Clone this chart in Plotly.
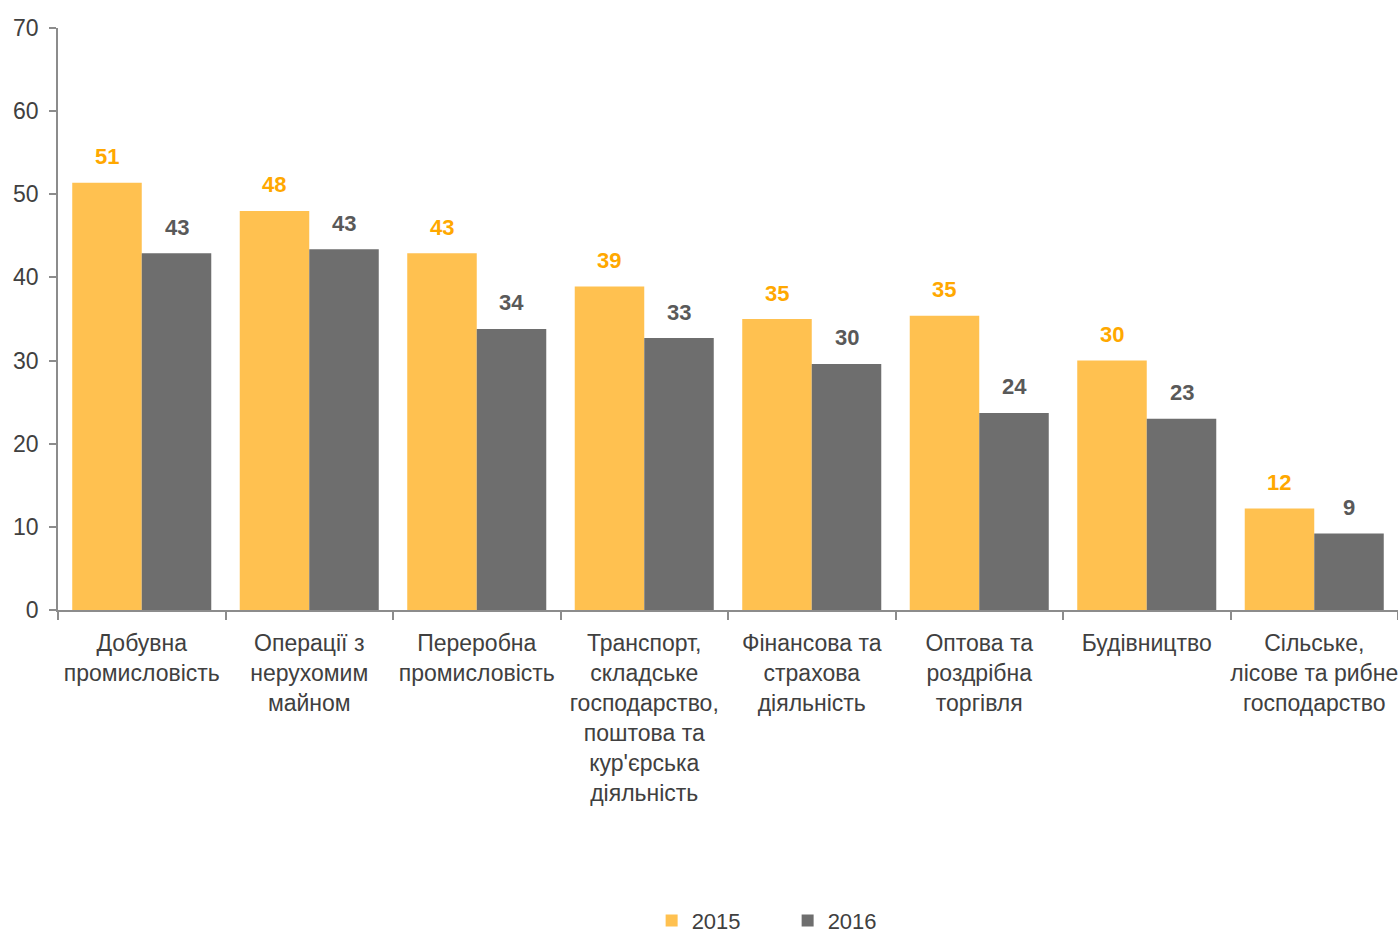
import plotly.graph_objects as go

categories = [
    "Добувна<br>промисловість",
    "Операції з<br>нерухомим<br>майном",
    "Переробна<br>промисловість",
    "Транспорт,<br>складське<br>господарство,<br>поштова та<br>кур'єрська<br>діяльність",
    "Фінансова та<br>страхова<br>діяльність",
    "Оптова та<br>роздрібна<br>торгівля",
    "Будівництво",
    "Сільське,<br>лісове та рибне<br>господарство",
]
values_2015 = [51.4, 48.0, 42.9, 38.9, 35.0, 35.4, 30.0, 12.2]
values_2016 = [42.9, 43.4, 33.8, 32.7, 29.6, 23.7, 23.0, 9.2]
labels_2015 = ["51", "48", "43", "39", "35", "35", "30", "12"]
labels_2016 = ["43", "43", "34", "33", "30", "24", "23", "9"]
series_names = ["2015", "2016"]

FONT = "Liberation Sans, Arial, sans-serif"
C15 = "#FFC150"
C16 = "#6E6E6E"
L15 = "#FFA800"
L16 = "#595959"

fig = go.Figure()
fig.add_trace(go.Bar(x=categories, y=values_2015, name=series_names[0],
                     marker=dict(color=C15, line=dict(width=0))))
fig.add_trace(go.Bar(x=categories, y=values_2016, name=series_names[1],
                     marker=dict(color=C16, line=dict(width=0))))

W, H = 1398, 934
ml, mr, mt, mb = 58, 0, 28, 324
bargap = 0.17
cat_px = (W - ml - mr) / len(categories)
half = cat_px * (1 - bargap) / 4

annotations = []
for cat, v, t in zip(categories, values_2015, labels_2015):
    annotations.append(dict(x=cat, y=v, text=t, showarrow=False, xshift=-half,
                            yshift=26, yanchor="middle",
                            font=dict(family=FONT, size=22, color=L15, weight="bold")))
for cat, v, t in zip(categories, values_2016, labels_2016):
    annotations.append(dict(x=cat, y=v, text=t, showarrow=False, xshift=half,
                            yshift=26, yanchor="middle",
                            font=dict(family=FONT, size=22, color=L16, weight="bold")))

fig.update_layout(
    width=W, height=H,
    margin=dict(l=ml, r=mr, t=mt, b=mb, autoexpand=False),
    plot_bgcolor="white", paper_bgcolor="white",
    barmode="group", bargap=bargap, bargroupgap=0,
    font=dict(family=FONT, size=22, color="#404040"),
    annotations=annotations,
    showlegend=True,
    legend=dict(orientation="h", x=0.5445, xanchor="center", y=-0.534, yanchor="middle",
                font=dict(family=FONT, size=22, color="#404040"),
                itemwidth=30, entrywidth=91, entrywidthmode="pixels",
                traceorder="normal"),
    xaxis=dict(showline=True, linecolor="#8C8C8C", linewidth=1.5,
               ticks="outside", tickson="boundaries", ticklen=8, tickcolor="#8C8C8C",
               tickwidth=1.5, tickfont=dict(size=23, color="#404040"), tickangle=0,
               ticklabelstandoff=12, automargin=False,
               showgrid=False, zeroline=False, fixedrange=True),
    yaxis=dict(range=[0, 70], dtick=10, showline=True, linecolor="#8C8C8C", linewidth=1.5,
               ticks="outside", ticklen=7, tickcolor="#8C8C8C", tickwidth=1.5,
               tickfont=dict(size=23, color="#404040"), automargin=False,
               ticklabelstandoff=6,
               showgrid=False, zeroline=False, fixedrange=True),
)

fig.write_html(
    "out.html",
    config={"displayModeBar": False},
    post_script="document.body.style.margin='0';document.body.style.overflow='hidden';",
)
